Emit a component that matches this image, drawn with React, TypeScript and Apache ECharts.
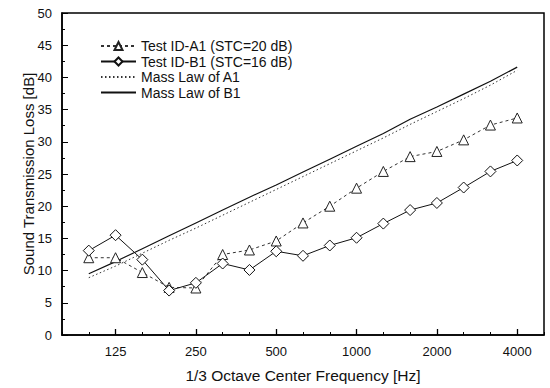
import React, { useEffect, useRef } from "react";
import * as echarts from "echarts";

const freqs = ["80", "100", "125", "160", "200", "250", "315", "400", "500", "630", "800", "1000", "1250", "1600", "2000", "2500", "3150", "4000", "5000"];
const majorLabels = ["125", "250", "500", "1000", "2000", "4000"];

const testA1 = [null, 12.0, 12.0, 9.7, 7.4, 7.3, 12.5, 13.2, 14.6, 17.4, 20.0, 22.8, 25.4, 27.7, 28.5, 30.3, 32.6, 33.7, null];
const testB1 = [null, 13.1, 15.5, 11.7, 6.9, 8.1, 11.1, 10.1, 13.0, 12.3, 13.9, 15.1, 17.3, 19.4, 20.5, 22.9, 25.4, 27.1, null];
const massA1 = [null, 8.9, 10.7, 12.7, 14.7, 16.6, 18.6, 20.6, 22.6, 24.6, 26.6, 28.6, 30.6, 32.7, 34.7, 36.7, 38.8, 41.1, null];
const massB1 = [null, 9.5, 11.4, 13.4, 15.4, 17.4, 19.4, 21.4, 23.3, 25.3, 27.3, 29.3, 31.3, 33.5, 35.4, 37.4, 39.4, 41.6, null];

const FONT = "Liberation Sans, Arial, sans-serif";
const CLEAR = "rgba(0,0,0,0)";

export default function App() {
  const ref = useRef<HTMLDivElement>(null);
  useEffect(() => {
    if (!ref.current) return;
    const chart = echarts.init(ref.current, null, { renderer: "svg" });
    const isMajor = (i: number) => majorLabels.includes(freqs[i]);
    chart.setOption({
      animation: false,
      backgroundColor: "#fff",
      textStyle: { fontFamily: FONT, color: "#000" },
      grid: { left: 62, right: 6, top: 13, bottom: 50, show: true, borderColor: "#000", borderWidth: 1.5 },
      legend: {
        orient: "vertical",
        left: 95,
        top: 34,
        itemWidth: 35,
        itemHeight: 10,
        itemGap: 1.5,
        textStyle: { fontFamily: FONT, fontSize: 14, color: "#111" },
        data: ["Test ID-A1 (STC=20 dB)", "Test ID-B1 (STC=16 dB)", "Mass Law of A1", "Mass Law of B1"],
      },
      xAxis: [
        {
          type: "category",
          data: freqs,
          boundaryGap: false,
          position: "bottom",
          name: "1/3 Octave Center Frequency [Hz]",
          nameLocation: "middle",
          nameGap: 32,
          nameMoveOverlap: false,
          nameTextStyle: { fontFamily: FONT, fontSize: 15.5, color: "#111" },
          axisLine: { lineStyle: { color: "#000", width: 1.5 } },
          axisTick: { inside: true, length: 3, interval: 0, lineStyle: { color: "#000" } },
          axisLabel: {
            interval: (i: number) => isMajor(i),
            fontFamily: FONT,
            fontSize: 13,
            color: "#111",
            margin: 10,
          },
          splitLine: { show: false },
        },
        {
          type: "category",
          data: freqs,
          boundaryGap: false,
          position: "bottom",
          axisLine: { show: false },
          axisTick: { inside: true, length: 6, interval: (i: number) => isMajor(i), lineStyle: { color: "#000", width: 1.3 } },
          axisLabel: { show: false },
          splitLine: { show: false },
        },
      ],
      yAxis: {
        type: "value",
        min: 0,
        max: 50,
        interval: 5,
        name: "Sound Transmission Loss [dB]",
        nameLocation: "middle",
        nameGap: 26,
        nameMoveOverlap: false,
        nameTextStyle: { fontFamily: FONT, fontSize: 15, color: "#111" },
        axisLine: { show: true, lineStyle: { color: "#000", width: 1.5 } },
        axisTick: { show: true, inside: true, length: 6, lineStyle: { color: "#000" } },
        minorTick: { show: true, splitNumber: 2, length: 3, lineStyle: { color: "#000" } },
        axisLabel: { fontFamily: FONT, fontSize: 13, color: "#111", margin: 10 },
        splitLine: { show: false },
      },
      series: [
        {
          name: "Test ID-A1 (STC=20 dB)",
          type: "line",
          data: testA1,
          symbol: "triangle",
          symbolSize: 10,
          itemStyle: { color: "#fff", borderColor: "#222", borderWidth: 1 },
          lineStyle: { color: "#333", width: 1, type: [3, 3] },
          z: 4,
        },
        {
          name: "Test ID-B1 (STC=16 dB)",
          type: "line",
          data: testB1,
          symbol: "diamond",
          symbolSize: 11,
          itemStyle: { color: "#fff", borderColor: "#111", borderWidth: 1 },
          lineStyle: { color: "#111", width: 1 },
          z: 4,
        },
        {
          name: "Mass Law of A1",
          type: "line",
          data: massA1,
          symbol: "none",
          itemStyle: { color: CLEAR, borderColor: CLEAR },
          lineStyle: { color: "#333", width: 1, type: [1.5, 2.5] },
          z: 3,
        },
        {
          name: "Mass Law of B1",
          type: "line",
          data: massB1,
          symbol: "none",
          itemStyle: { color: CLEAR, borderColor: CLEAR },
          lineStyle: { color: "#111", width: 1.2 },
          z: 3,
        },
      ],
    });
    return () => chart.dispose();
  }, []);
  return <div ref={ref} style={{ width: 550, height: 388, position: "absolute", left: 0, top: 0 }} />;
}
